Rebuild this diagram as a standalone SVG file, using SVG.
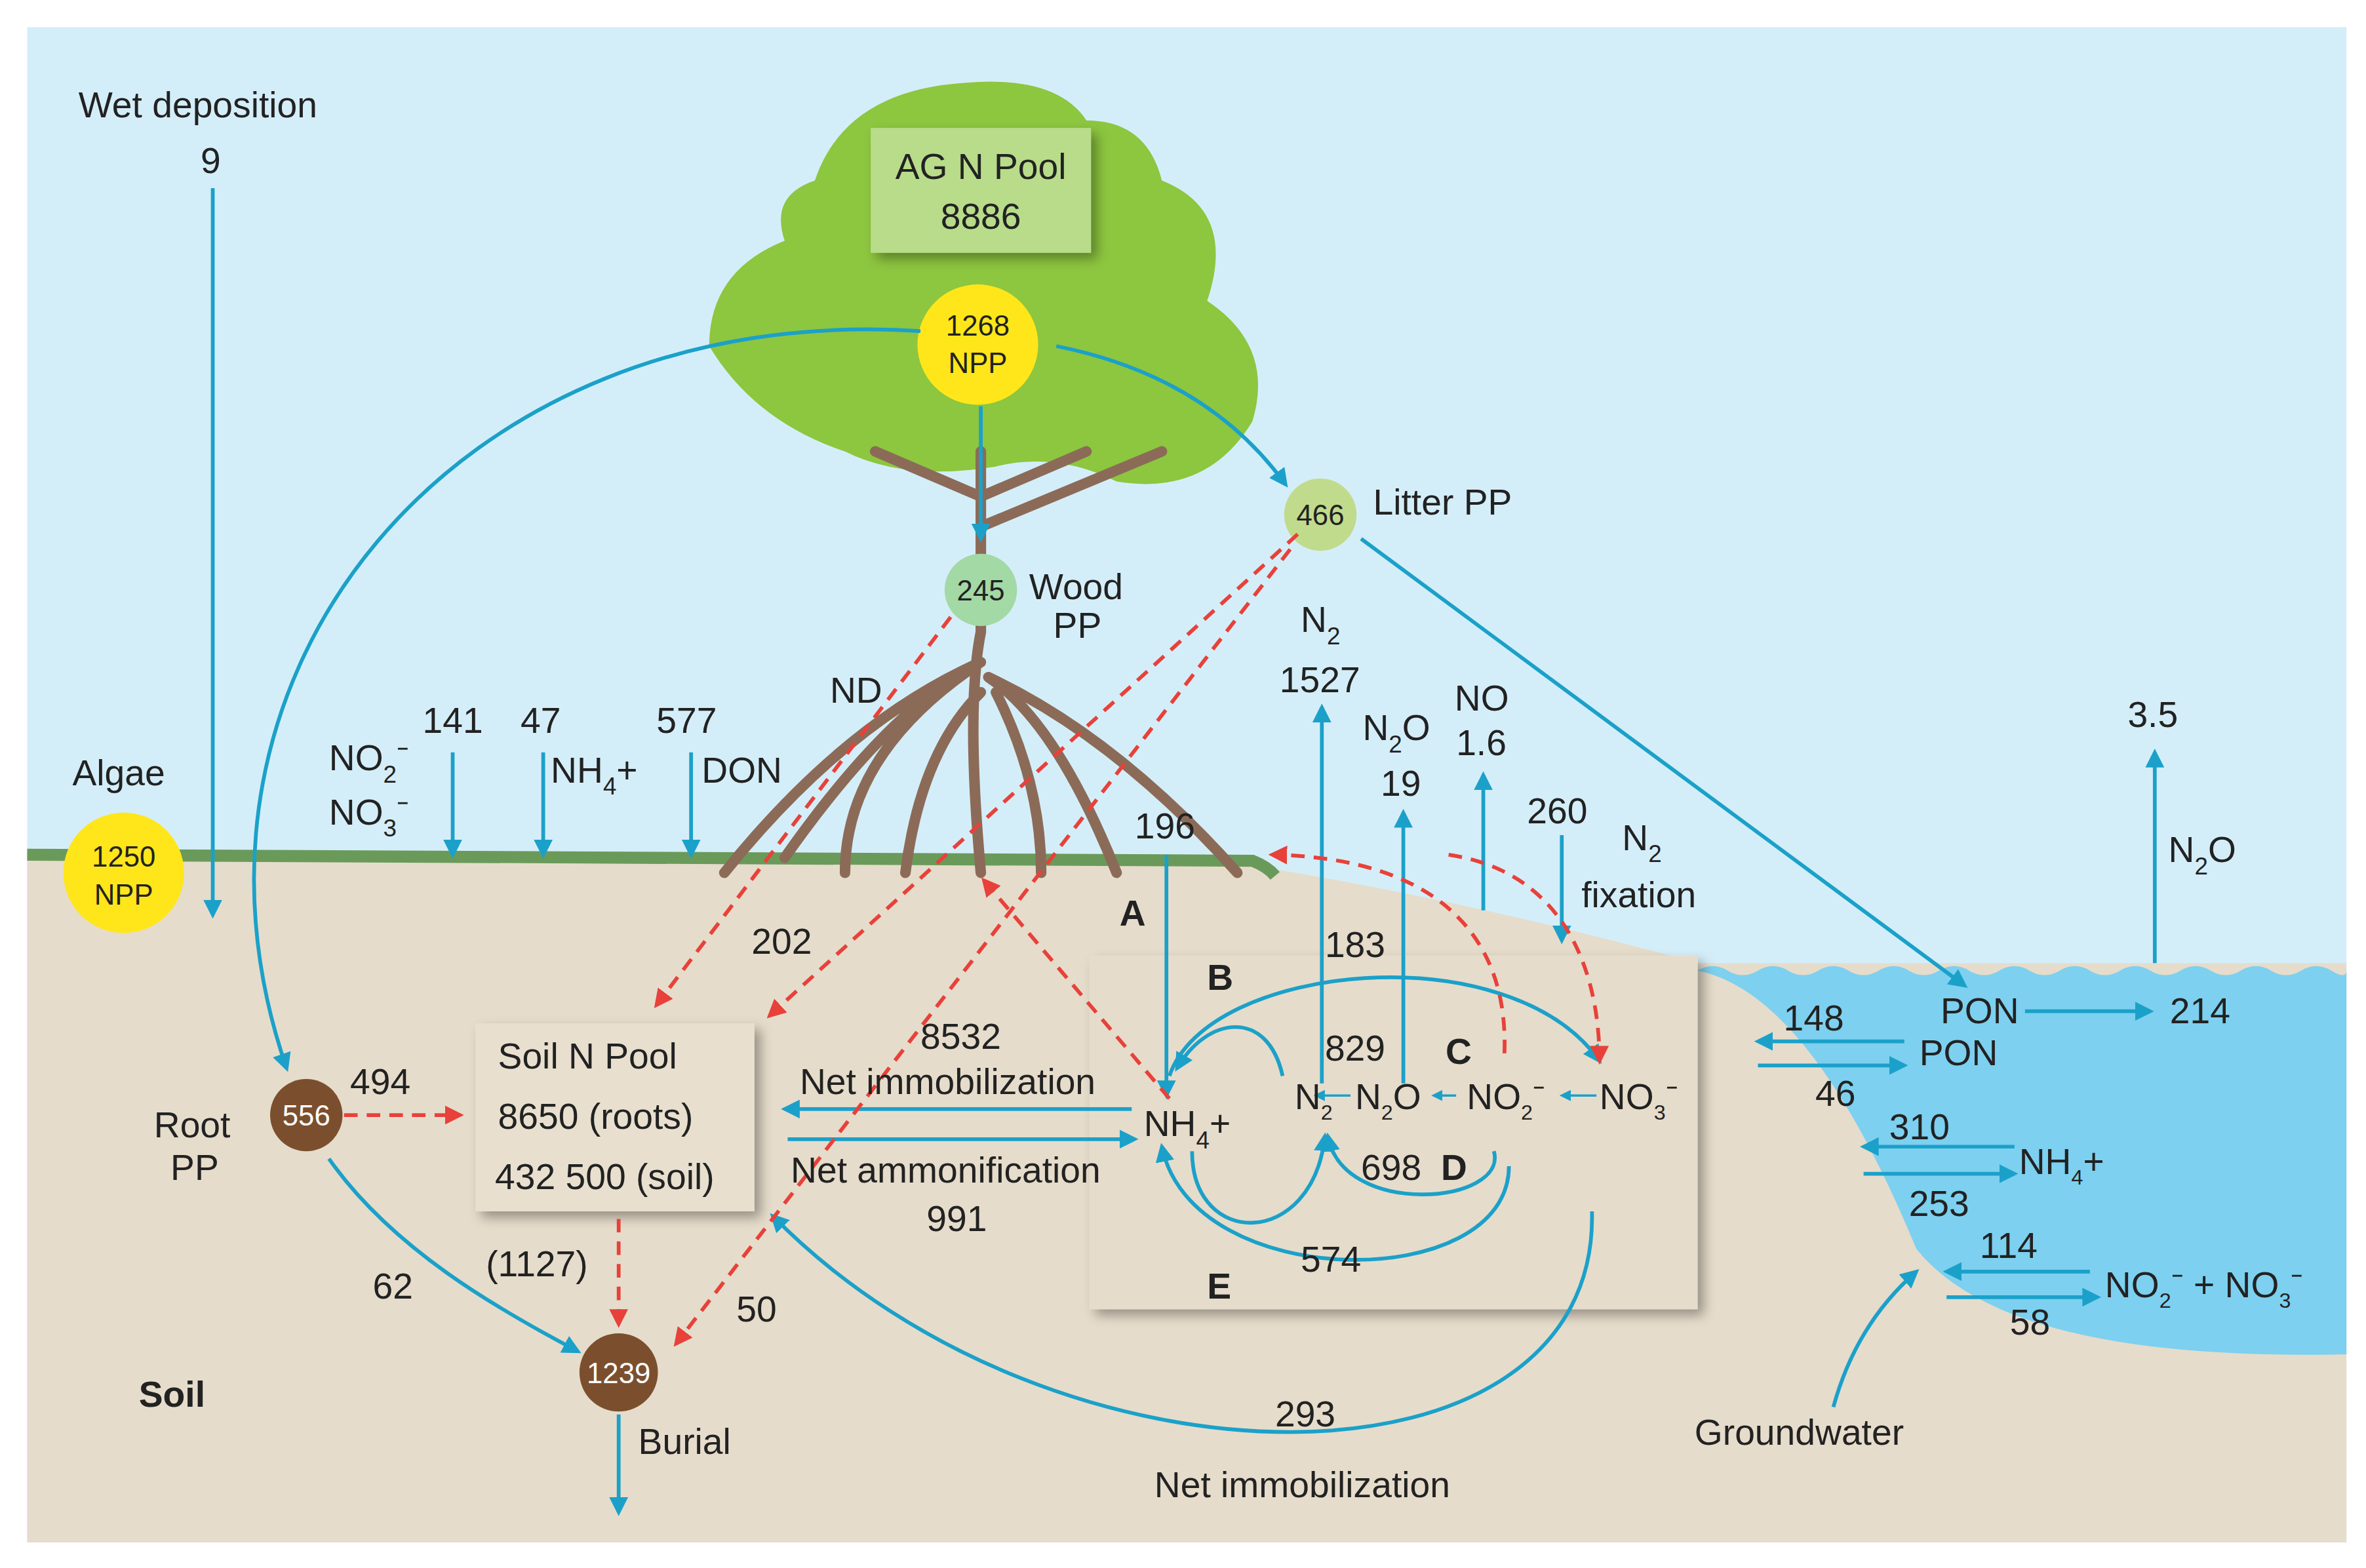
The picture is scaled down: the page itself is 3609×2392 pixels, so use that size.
<svg xmlns="http://www.w3.org/2000/svg" width="3609" height="2392" viewBox="0 0 3609 2392">
<defs>
<marker id="ab" viewBox="0 0 10 10" refX="8" refY="5" markerWidth="5" markerHeight="5" orient="auto"><path d="M0,0L10,5L0,10z" fill="#1ba1c9"/></marker>
<marker id="ar" viewBox="0 0 10 10" refX="8" refY="5" markerWidth="5" markerHeight="5" orient="auto"><path d="M0,0L10,5L0,10z" fill="#e8413a"/></marker>
<filter id="sh" x="-10%" y="-10%" width="130%" height="130%"><feDropShadow dx="4" dy="4" stdDeviation="4" flood-opacity="0.35"/></filter>
</defs>
<style>
text{font-family:"Liberation Sans",Arial,sans-serif;font-size:24px;fill:#222}
.b{fill:none;stroke:#1ba1c9;stroke-width:2.5;marker-end:url(#ab)}
.r{fill:none;stroke:#e8413a;stroke-width:2.5;stroke-dasharray:9 6;marker-end:url(#ar)}
.root{fill:none;stroke:#8b6b58;stroke-width:7;stroke-linecap:round}
.c{font-size:19px;text-anchor:middle}
</style>
<rect width="3609" height="2392" fill="#fff"/>
<g transform="scale(2.3017,2.2956)">
<rect x="18" y="18" width="1537" height="1007" fill="#d4eef9"/>
<path d="M18,572 L830,575 Q980,600 1125,640 L1555,640 L1555,1025 L18,1025 Z" fill="#e6dccb"/>
<path d="M18,568 L830,572 Q840,576 845,582" fill="none" stroke="#6a9a5a" stroke-width="8"/>
<path d="M1125,645 q10,-6 20,0 t20,0 t20,0 t20,0 t20,0 t20,0 t20,0 t20,0 t20,0 t20,0 t20,0 t20,0 t20,0 t20,0 t20,0 t20,0 t20,0 t20,0 t20,0 t20,0 t20,0 t10,0 L1555,900 Q1330,905 1270,830 Q1200,660 1125,645 Z" fill="#7dd0ef"/>
<g id="tree">
<path d="M540,120 Q560,60 640,55 Q700,50 720,80 Q760,80 770,120 Q820,140 800,200 Q845,230 830,280 Q800,330 740,320 Q700,300 660,310 Q600,320 560,300 Q500,280 470,230 Q470,180 520,160 Q510,130 540,120 Z" fill="#8dc63f"/>
<path class="root" d="M650,300 L650,420 Q640,470 650,580 M650,440 Q590,470 520,570 M650,440 Q560,480 480,580 M655,450 Q740,490 820,580 M655,450 Q700,480 740,580 M650,460 Q610,500 600,580 M660,460 Q690,520 690,580 M650,440 Q560,500 560,580 M650,330 L580,300 M650,330 L720,300 M650,350 L770,300"/>
</g>
<g id="soil-box"><rect x="722" y="635" width="403" height="235" fill="#e6dccb" filter="url(#sh)"/></g>
<g id="ag"><rect x="577" y="85" width="146" height="83" fill="#b8dc8a" filter="url(#sh)"/><text x="650" y="119" text-anchor="middle">AG N Pool</text><text x="650" y="152" text-anchor="middle">8886</text></g>
<g id="pool"><rect x="315" y="680" width="185" height="125" fill="#e8dfcf" filter="url(#sh)"/><text x="330" y="710">Soil N Pool</text><text x="330" y="750">8650 (roots)</text><text x="328" y="790">432 500 (soil)</text></g>
<g id="npp"><circle cx="648" cy="229" r="40" fill="#ffe61a"/><text class="c" x="648" y="223">1268</text><text class="c" x="648" y="248">NPP</text></g>
<g id="wood"><circle cx="650" cy="392" r="24" fill="#a3d9a5"/><text class="c" x="650" y="399">245</text><text x="682" y="398">Wood</text><text x="698" y="424">PP</text></g>
<g id="litter"><circle cx="875" cy="342" r="24" fill="#c1db8c"/><text class="c" x="875" y="349">466</text><text x="910" y="342">Litter PP</text></g>
<g id="algae"><circle cx="82" cy="580" r="40" fill="#ffe61a"/><text class="c" x="82" y="576">1250</text><text class="c" x="82" y="601">NPP</text><text x="48" y="522">Algae</text></g>
<g id="rootpp"><circle cx="203" cy="741" r="24" fill="#7b4f2e"/><text class="c" x="203" y="748" style="fill:#fff">556</text><text x="102" y="756">Root</text><text x="113" y="784">PP</text></g>
<g id="burial"><circle cx="410" cy="912" r="26" fill="#7b4f2e"/><text class="c" x="410" y="919" style="fill:#fff">1239</text><text x="423" y="966">Burial</text></g>
<g id="connectors">
<path class="b" d="M141,125V608"/>
<path class="b" d="M610,220C300,200 100,450 190,710"/>
<path class="b" d="M650,270V358"/>
<path class="b" d="M700,230Q800,250 852,322"/>
<path class="b" d="M902,358L1302,655"/>
<path class="b" d="M300,500V568"/><path class="b" d="M360,500V568"/><path class="b" d="M458,500V568"/>
<path class="b" d="M773,568V728"/>
<path class="b" d="M876,720V470"/><path class="b" d="M930,720V540"/><path class="b" d="M983,605V515"/><path class="b" d="M1035,555V625"/><path class="b" d="M1428,640V500"/>
<path class="b" d="M1342,672H1425"/><path class="b" d="M1262,692H1165"/><path class="b" d="M1165,708H1262"/><path class="b" d="M1335,762H1235"/><path class="b" d="M1235,780H1335"/><path class="b" d="M1385,845H1290"/><path class="b" d="M1290,862H1390"/>
<path class="b" d="M1215,935Q1230,880 1270,845"/>
<path class="b" d="M775,715C800,640 1000,620 1060,705"/>
<path class="b" d="M850,715C840,670 800,675 780,710"/>
<path class="b" d="M750,737H520"/><path class="b" d="M522,757H752"/>
<path class="b" d="M990,765C1000,800 890,810 880,755"/>
<path class="b" d="M790,765C790,830 870,830 878,755"/>
<path class="b" d="M1000,775C1000,860 790,860 770,762"/>
<path class="b" d="M1055,805C1060,1000 700,1000 512,808"/>
<path class="b" d="M218,770C260,830 330,870 383,898"/>
<path class="b" d="M410,940V1005"/>
<path class="b" d="M895,728H872" style="stroke-width:1.5"/><path class="b" d="M965,728H950" style="stroke-width:1.5"/><path class="b" d="M1058,728H1035" style="stroke-width:1.5"/>
<path class="r" d="M630,410L435,668"/>
<path class="r" d="M860,355L510,675"/>
<path class="r" d="M855,365L448,893"/>
<path class="r" d="M775,730L652,585"/>
<path class="r" d="M228,741H305"/>
<path class="r" d="M410,810V880"/>
<path class="r" d="M997,700C1000,620 950,570 843,568"/>
<path class="r" d="M960,568C1040,580 1060,650 1060,705"/>
</g>
<g id="labels">
<text x="52" y="78">Wet deposition</text><text x="133" y="115">9</text>
<text x="280" y="487">141</text><text x="345" y="487">47</text><text x="435" y="487">577</text>
<text x="218" y="512">NO<tspan font-size="16" dy="8">2</tspan><tspan dy="-8">⁻</tspan></text>
<text x="218" y="548">NO<tspan font-size="16" dy="8">3</tspan><tspan dy="-8">⁻</tspan></text>
<text x="365" y="520">NH<tspan font-size="16" dy="8">4</tspan><tspan dy="-8">+</tspan></text>
<text x="465" y="520">DON</text>
<text x="550" y="467">ND</text><text x="498" y="634">202</text><text x="752" y="557">196</text>
<text x="742" y="615" font-weight="bold">A</text><text x="800" y="658" font-weight="bold">B</text><text x="958" y="707" font-weight="bold">C</text><text x="955" y="784" font-weight="bold">D</text><text x="800" y="863" font-weight="bold">E</text>
<text x="862" y="420">N<tspan font-size="16" dy="8">2</tspan></text><text x="848" y="460">1527</text>
<text x="903" y="492">N<tspan font-size="16" dy="8">2</tspan><tspan dy="-8">O</tspan></text><text x="915" y="529">19</text>
<text x="964" y="472">NO</text><text x="965" y="502">1.6</text>
<text x="1012" y="547">260</text><text x="1075" y="565">N<tspan font-size="16" dy="8">2</tspan></text><text x="1048" y="603">fixation</text>
<text x="1410" y="483">3.5</text><text x="1437" y="573">N<tspan font-size="16" dy="8">2</tspan><tspan dy="-8">O</tspan></text>
<text x="878" y="636">183</text><text x="878" y="705">829</text><text x="902" y="784">698</text><text x="862" y="845">574</text>
<text x="610" y="697">8532</text><text x="530" y="727">Net immobilization</text><text x="524" y="786">Net ammonification</text><text x="614" y="818">991</text>
<text x="758" y="755">NH<tspan font-size="16" dy="8">4</tspan><tspan dy="-8">+</tspan></text>
<text x="858" y="737" font-size="21">N<tspan font-size="14" dy="7">2</tspan></text>
<text x="898" y="737" font-size="21">N<tspan font-size="14" dy="7">2</tspan><tspan dy="-7">O</tspan></text>
<text x="972" y="737" font-size="21">NO<tspan font-size="14" dy="7">2</tspan><tspan dy="-7">⁻</tspan></text>
<text x="1060" y="737" font-size="21">NO<tspan font-size="14" dy="7">3</tspan><tspan dy="-7">⁻</tspan></text>
<text x="232" y="727">494</text><text x="247" y="863">62</text><text x="322" y="848">(1127)</text><text x="488" y="878">50</text>
<text x="92" y="935" font-weight="bold" font-size="26">Soil</text>
<text x="845" y="948">293</text><text x="765" y="995">Net immobilization</text>
<text x="1286" y="680" font-size="20">PON</text><text x="1438" y="680">214</text>
<text x="1182" y="685">148</text><text x="1272" y="708" font-size="20">PON</text><text x="1203" y="735">46</text>
<text x="1252" y="757">310</text><text x="1338" y="780" font-size="20">NH<tspan font-size="14" dy="7">4</tspan><tspan dy="-7">+</tspan></text><text x="1265" y="808">253</text>
<text x="1312" y="836">114</text><text x="1332" y="887">58</text>
<text x="1395" y="862" font-size="20">NO<tspan font-size="14" dy="7">2</tspan><tspan dy="-7">⁻ + NO</tspan><tspan font-size="14" dy="7">3</tspan><tspan dy="-7">⁻</tspan></text>
<text x="1123" y="960">Groundwater</text>
</g>
</g>
</svg>
